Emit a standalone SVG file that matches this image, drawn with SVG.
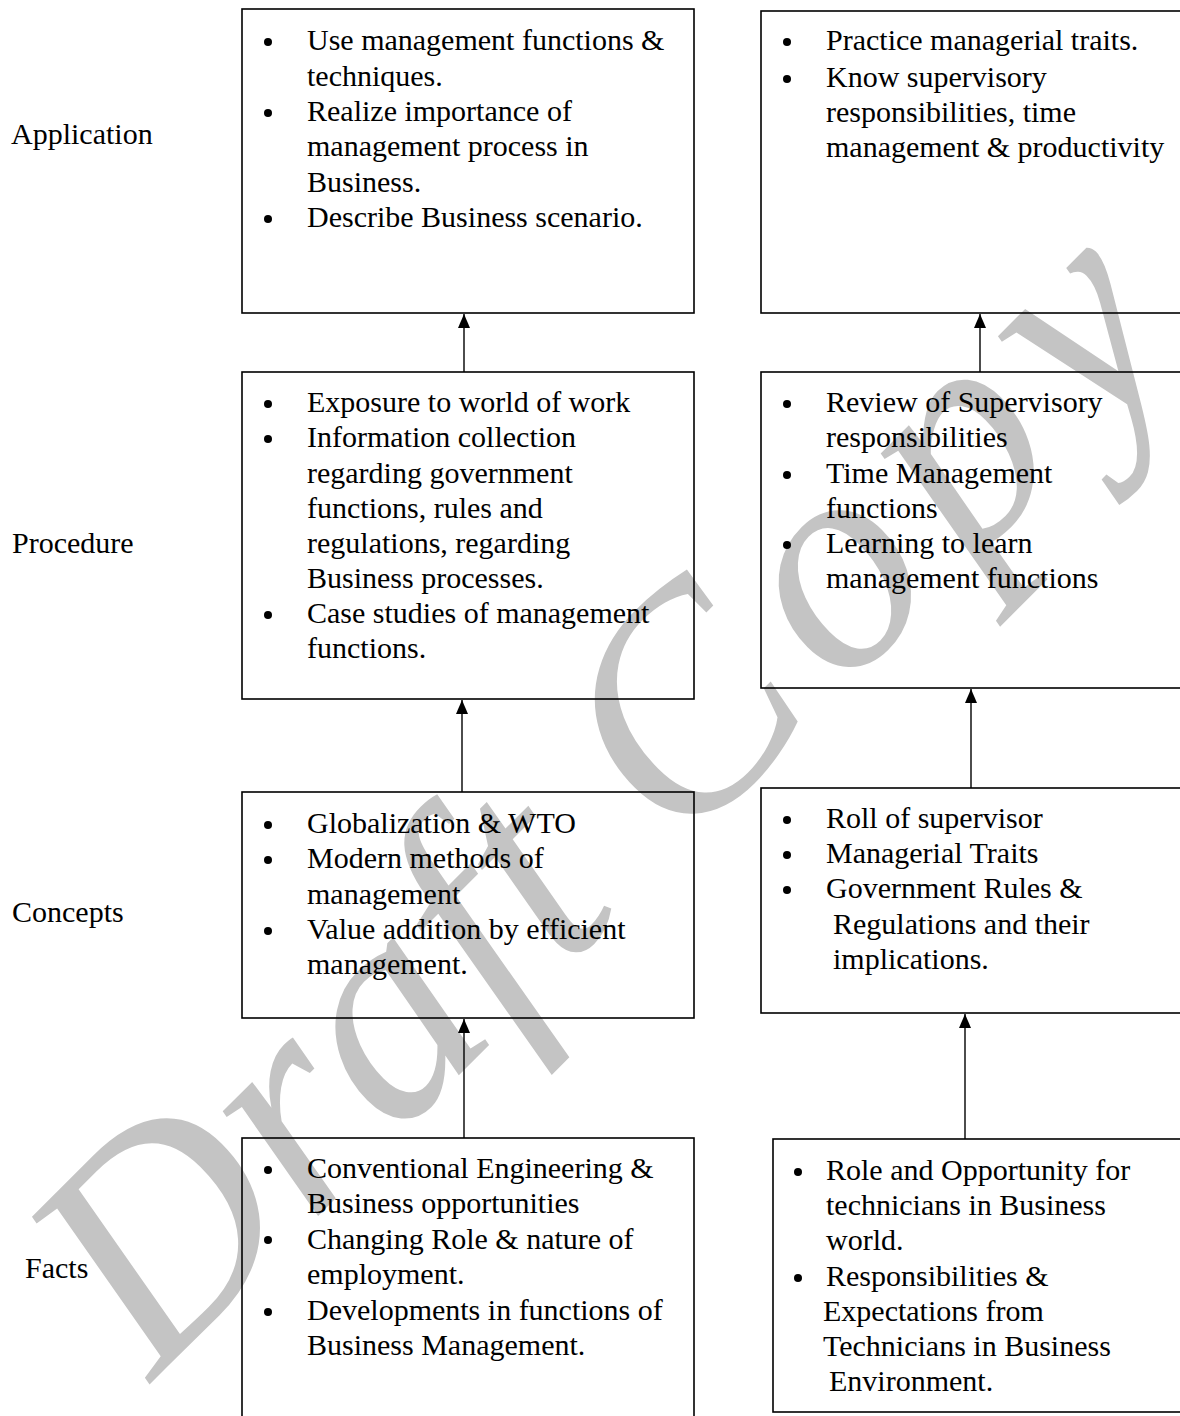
<svg xmlns="http://www.w3.org/2000/svg" width="1180" height="1416" viewBox="0 0 1180 1416">
<defs>
<marker id="ah" viewBox="0 0 14 12" refX="14" refY="6" markerWidth="14" markerHeight="12" markerUnits="userSpaceOnUse" orient="auto">
<path d="M0,0 L14,6 L0,12 Z" fill="#000"/>
</marker>
<style>
.t{font-family:"Liberation Serif","Times New Roman",serif;font-size:30px;fill:#000}
.box{fill:none;stroke:#000;stroke-width:1.6}
.conn{stroke:#000;stroke-width:1.4;fill:none}
.b{fill:#000}
.wm{font-family:"Liberation Serif","Times New Roman",serif;font-style:italic;font-size:308px;fill:#c4c4c4}
</style>
</defs>
<rect width="1180" height="1416" fill="#fff"/>
<g id="watermark">
<text class="wm" transform="translate(152,1382) rotate(-45)">Draft <tspan letter-spacing="24">Copy</tspan></text>
</g>
<g id="labels">
<text class="t" x="11" y="144">Application</text>
<text class="t" x="12" y="553">Procedure</text>
<text class="t" x="12" y="922">Concepts</text>
<text class="t" x="25" y="1278">Facts</text>
</g>
<g id="connectors">
<line class="conn" x1="464" y1="372" x2="464" y2="314" marker-end="url(#ah)"/>
<line class="conn" x1="980" y1="372" x2="980" y2="314" marker-end="url(#ah)"/>
<line class="conn" x1="462" y1="792" x2="462" y2="700" marker-end="url(#ah)"/>
<line class="conn" x1="971" y1="788" x2="971" y2="689" marker-end="url(#ah)"/>
<line class="conn" x1="464" y1="1138" x2="464" y2="1019" marker-end="url(#ah)"/>
<line class="conn" x1="965" y1="1139" x2="965" y2="1014" marker-end="url(#ah)"/>
</g>
<g id="app-left">
<rect class="box" x="242" y="9" width="452" height="304"/>
<circle class="b" cx="268" cy="42" r="4"/>
<circle class="b" cx="268" cy="113" r="4"/>
<circle class="b" cx="268" cy="219" r="4"/>
<text class="t" x="307" y="50">Use management functions &amp;</text>
<text class="t" x="307" y="85.5">techniques.</text>
<text class="t" x="307" y="121">Realize importance of</text>
<text class="t" x="307" y="156">management process in</text>
<text class="t" x="307" y="191.5">Business.</text>
<text class="t" x="307" y="227">Describe Business scenario.</text>
</g>
<g id="app-right">
<rect class="box" x="761" y="11" width="430" height="302"/>
<circle class="b" cx="787" cy="42" r="4"/>
<circle class="b" cx="787" cy="79" r="4"/>
<text class="t" x="826" y="50">Practice managerial traits.</text>
<text class="t" x="826" y="86.5">Know supervisory</text>
<text class="t" x="826" y="122">responsibilities, time</text>
<text class="t" x="826" y="157">management &amp; productivity</text>
</g>
<g id="proc-left">
<rect class="box" x="242" y="372" width="452" height="327"/>
<circle class="b" cx="268" cy="404" r="4"/>
<circle class="b" cx="268" cy="439" r="4"/>
<circle class="b" cx="268" cy="615" r="4"/>
<text class="t" x="307" y="411.5">Exposure to world of work</text>
<text class="t" x="307" y="447">Information collection</text>
<text class="t" x="307" y="482.5">regarding government</text>
<text class="t" x="307" y="517.5">functions, rules and</text>
<text class="t" x="307" y="553">regulations, regarding</text>
<text class="t" x="307" y="588">Business processes.</text>
<text class="t" x="307" y="623">Case studies of management</text>
<text class="t" x="307" y="658">functions.</text>
</g>
<g id="proc-right">
<rect class="box" x="761" y="372" width="430" height="316"/>
<circle class="b" cx="787" cy="404" r="4"/>
<circle class="b" cx="787" cy="475" r="4"/>
<circle class="b" cx="787" cy="545" r="4"/>
<text class="t" x="826" y="411.5">Review of Supervisory</text>
<text class="t" x="826" y="447">responsibilities</text>
<text class="t" x="826" y="482.5">Time Management</text>
<text class="t" x="826" y="517.5">functions</text>
<text class="t" x="826" y="553">Learning to learn</text>
<text class="t" x="826" y="588">management functions</text>
</g>
<g id="concepts-left">
<rect class="box" x="242" y="792" width="452" height="226"/>
<circle class="b" cx="268" cy="825" r="4"/>
<circle class="b" cx="268" cy="860" r="4"/>
<circle class="b" cx="268" cy="931" r="4"/>
<text class="t" x="307" y="833">Globalization &amp; WTO</text>
<text class="t" x="307" y="868">Modern methods of</text>
<text class="t" x="307" y="903.5">management</text>
<text class="t" x="307" y="939">Value addition by efficient</text>
<text class="t" x="307" y="974">management.</text>
</g>
<g id="concepts-right">
<rect class="box" x="761" y="788" width="430" height="225"/>
<circle class="b" cx="787" cy="820" r="4"/>
<circle class="b" cx="787" cy="855" r="4"/>
<circle class="b" cx="787" cy="890" r="4"/>
<text class="t" x="826" y="828">Roll of supervisor</text>
<text class="t" x="826" y="863">Managerial Traits</text>
<text class="t" x="826" y="898">Government Rules &amp;</text>
<text class="t" x="833" y="934">Regulations and their</text>
<text class="t" x="833" y="969">implications.</text>
</g>
<g id="facts-left">
<rect class="box" x="242" y="1138" width="452" height="290"/>
<circle class="b" cx="268" cy="1170" r="4"/>
<circle class="b" cx="268" cy="1240" r="4"/>
<circle class="b" cx="268" cy="1312" r="4"/>
<text class="t" x="307" y="1178">Conventional Engineering &amp;</text>
<text class="t" x="307" y="1213">Business opportunities</text>
<text class="t" x="307" y="1248.5">Changing Role &amp; nature of</text>
<text class="t" x="307" y="1284">employment.</text>
<text class="t" x="307" y="1319.5">Developments in functions of</text>
<text class="t" x="307" y="1355">Business Management.</text>
</g>
<g id="facts-right">
<rect class="box" x="773" y="1139" width="418" height="273"/>
<circle class="b" cx="798" cy="1172" r="4"/>
<circle class="b" cx="798" cy="1278" r="4"/>
<text class="t" x="826" y="1180">Role and Opportunity for</text>
<text class="t" x="826" y="1215">technicians in Business</text>
<text class="t" x="826" y="1250">world.</text>
<text class="t" x="826" y="1286">Responsibilities &amp;</text>
<text class="t" x="823" y="1321">Expectations from</text>
<text class="t" x="823" y="1356">Technicians in Business</text>
<text class="t" x="829" y="1391">Environment.</text>
</g>
</svg>
